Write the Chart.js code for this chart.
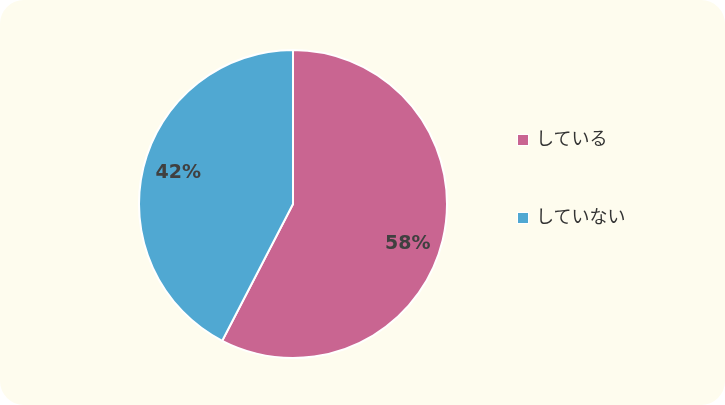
<!DOCTYPE html>
<html>
<head>
    <meta charset="utf-8">
    <title>している / していない</title>
    <script src="https://cdn.jsdelivr.net/npm/chart.js"></script>
    <style>
        body {
            margin: 0;
            background: #ffffff;
        }
        #frame {
            position: relative;
            width: 725px;
            height: 405px;
            background: #fefcee;
            border-radius: 24px;
            overflow: hidden;
        }
        #chartBox {
            position: absolute;
            left: 0;
            top: 0;
            width: 586px;
            height: 405px;
        }
        #legend {
            position: absolute;
            left: 517px;
            top: 124px;
            font-family: "Noto Sans CJK JP", "DejaVu Sans", sans-serif;
            font-size: 18px;
            color: #333333;
        }
        .item {
            display: flex;
            align-items: center;
            height: 26px;
            margin-bottom: 52px;
        }
        .box {
            width: 10px;
            height: 10px;
            border: 1.5px solid #ffffff;
            margin-right: 7px;
            margin-top: 6px;
        }
    </style>
</head>
<body>
    <div id="frame">
        <div id="chartBox"><canvas id="pieChart"></canvas></div>
        <div id="legend"></div>
    </div>

    <script>
        var labels = ['している', 'していない'];
        var values = [57.6, 42.4];
        var colors = ['#c96591', '#50a8d2'];

        // legend built from the same arrays
        var legend = document.getElementById('legend');
        labels.forEach(function (name, i) {
            var row = document.createElement('div');
            row.className = 'item';
            var box = document.createElement('span');
            box.className = 'box';
            box.style.background = colors[i];
            var txt = document.createElement('span');
            txt.textContent = name;
            row.appendChild(box);
            row.appendChild(txt);
            legend.appendChild(row);
        });

        // percentage labels inside the slices
        var sliceLabels = {
            id: 'sliceLabels',
            afterDatasetsDraw: function (chart) {
                var ctx = chart.ctx;
                var meta = chart.getDatasetMeta(0);
                var total = values.reduce(function (a, b) { return a + b; }, 0);
                ctx.save();
                ctx.font = 'bold 19px "DejaVu Sans", sans-serif';
                ctx.fillStyle = '#404040';
                ctx.textAlign = 'center';
                ctx.textBaseline = 'middle';
                meta.data.forEach(function (arc, i) {
                    var mid = (arc.startAngle + arc.endAngle) / 2 + 3.5 * Math.PI / 180;
                    var r = arc.outerRadius * 0.78;
                    var x = arc.x + Math.cos(mid) * r;
                    var y = arc.y + Math.sin(mid) * r + 5;
                    ctx.fillText(Math.round(values[i] / total * 100) + '%', x, y);
                });
                ctx.restore();
            }
        };

        new Chart(document.getElementById('pieChart'), {
            type: 'pie',
            data: {
                labels: labels,
                datasets: [{
                    data: values,
                    backgroundColor: colors,
                    borderColor: '#ffffff',
                    borderWidth: 2
                }]
            },
            options: {
                responsive: true,
                maintainAspectRatio: false,
                animation: false,
                layout: { padding: { top: 49, bottom: 46 } },
                plugins: {
                    legend: { display: false },
                    tooltip: { enabled: false }
                }
            },
            plugins: [sliceLabels]
        });
    </script>
</body>
</html>
